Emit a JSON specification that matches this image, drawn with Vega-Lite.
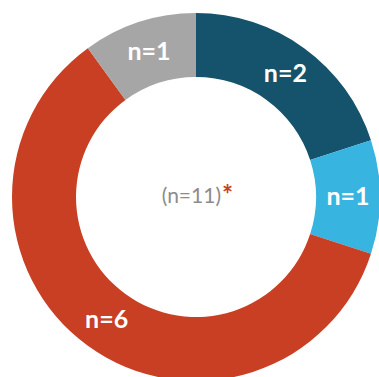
{
  "$schema": "https://vega.github.io/schema/vega-lite/v6.json",
  "width": 392,
  "height": 394,
  "padding": 0,
  "autosize": {"type": "none"},
  "background": "white",
  "view": {"stroke": null},
  "data": {"values": [
    {"idx": 1, "group": "A", "n": 2, "label": "n=2"},
    {"idx": 2, "group": "B", "n": 1, "label": "n=1"},
    {"idx": 3, "group": "C", "n": 6, "label": "n=6"},
    {"idx": 4, "group": "D", "n": 1, "label": "n=1"}
  ]},
  "encoding": {
    "theta": {"field": "n", "type": "quantitative", "stack": true},
    "order": {"field": "idx", "type": "quantitative"}
  },
  "layer": [
    {
      "mark": {"type": "arc", "outerRadius": 184, "innerRadius": 120},
      "encoding": {
        "color": {"field": "group", "type": "nominal", "legend": null,
          "scale": {"domain": ["A", "B", "C", "D"], "range": ["#14536b", "#38b4e0", "#c83f23", "#a6a6a6"]}}
      }
    },
    {
      "mark": {"type": "text", "radius": 152, "font": "Lato", "fontWeight": "bold", "fontSize": 25, "fill": "white", "baseline": "middle", "align": "center"},
      "encoding": {"text": {"field": "label"}}
    },
    {
      "data": {"values": [{"t": "(n=11)"}]},
      "mark": {"type": "text", "font": "Lato", "fontSize": 21, "fill": "#8c8c8c", "align": "right", "baseline": "middle", "dx": 25, "dy": 0},
      "encoding": {"text": {"field": "t"}, "theta": null, "order": null}
    },
    {
      "data": {"values": [{"t": "*"}]},
      "mark": {"type": "text", "font": "Lato", "fontSize": 26, "fontWeight": "bold", "fill": "#c83f23", "align": "left", "baseline": "middle", "dx": 26, "dy": -1},
      "encoding": {"text": {"field": "t"}, "theta": null, "order": null}
    }
  ]
}
